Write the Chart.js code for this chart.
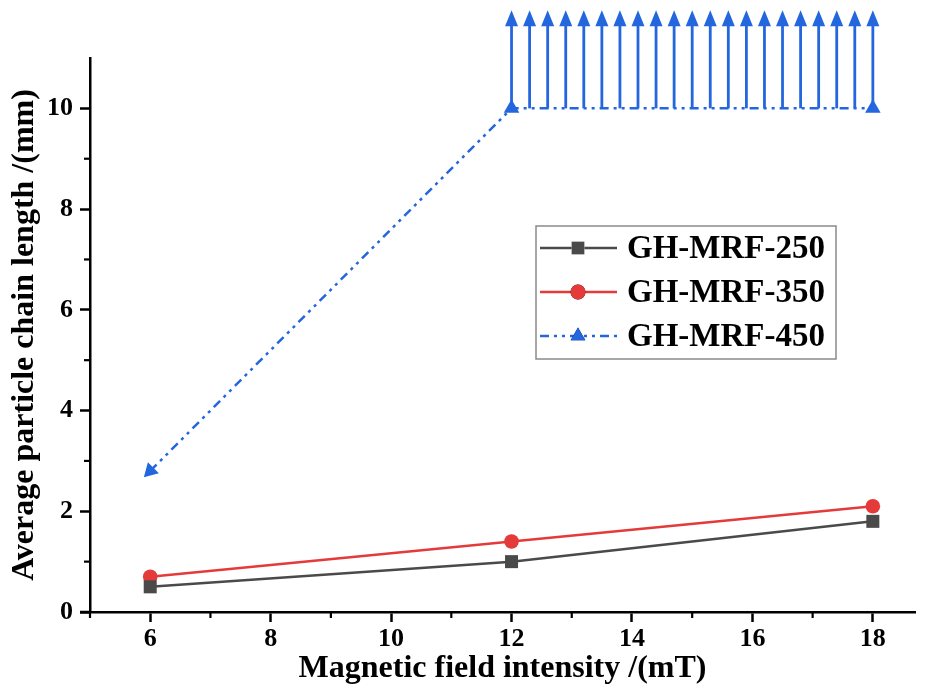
<!DOCTYPE html>
<html>
<head>
<meta charset="utf-8">
<script src="https://cdn.jsdelivr.net/npm/chart.js@4.4.0/dist/chart.umd.min.js"></script>
<style>
  html, body { margin: 0; padding: 0; background: #ffffff; }
  #wrap { width: 928px; height: 695px; position: relative; }
</style>
</head>
<body>
<div id="wrap"><canvas id="c" width="928" height="695"></canvas></div>
<script>
// ---- data ----
const fieldIntensity = [6, 12, 18];
const mrf250 = [0.5, 1.0, 1.8];
const mrf350 = [0.7, 1.4, 2.1];
const mrf450 = [2.8, 10, 10];
const seriesNames = ['GH-MRF-250', 'GH-MRF-350', 'GH-MRF-450'];
// out-of-range arrows for GH-MRF-450 (x positions, start value, tip value)
const arrowX = [12, 12.3, 12.6, 12.9, 13.2, 13.5, 13.8, 14.1, 14.4, 14.7, 15, 15.3, 15.6, 15.9, 16.2, 16.5, 16.8, 17.1, 17.4, 17.7, 18];
const arrowFrom = 10;
const arrowTo = 11.95;
const xMajorTicks = [6, 8, 10, 12, 14, 16, 18];
const xMinorTicks = [5, 7, 9, 11, 13, 15, 17];
const yMajorTicks = [0, 2, 4, 6, 8, 10];
const yMinorTicks = [1, 3, 5, 7, 9];

const FONT = "'Liberation Serif', 'Times New Roman', serif";
const C_GRAY = '#4a4a4a', C_RED = '#e53a3a', C_BLUE = '#2466de';
const DASH450 = [9, 5, 3, 5, 3, 5];

const pts = (ys) => fieldIntensity.map((x, i) => ({x, y: ys[i]}));

const arrowsPlugin = {
  id: 'arrows',
  afterDatasetsDraw(chart) {
    const {ctx, scales: {x, y}} = chart;
    ctx.save();
    ctx.strokeStyle = C_BLUE;
    ctx.fillStyle = C_BLUE;
    ctx.lineWidth = 2.8;
    const y0 = y.getPixelForValue(arrowFrom);
    const y1 = y.getPixelForValue(arrowTo);
    const headLen = 16, headHalf = 6.5;
    arrowX.forEach(v => {
      const px = x.getPixelForValue(v);
      ctx.beginPath();
      ctx.moveTo(px, y0);
      ctx.lineTo(px, y1 + headLen - 1);
      ctx.stroke();
      ctx.beginPath();
      ctx.moveTo(px, y1);
      ctx.lineTo(px - headHalf, y1 + headLen);
      ctx.lineTo(px + headHalf, y1 + headLen);
      ctx.closePath();
      ctx.fill();
    });
    ctx.restore();
  }
};

const minorTicksPlugin = {
  id: 'minorTicks',
  afterDraw(chart) {
    const {ctx, scales: {x, y}, chartArea: a} = chart;
    ctx.save();
    ctx.strokeStyle = '#000';
    ctx.lineWidth = 2.2;
    xMinorTicks.forEach(v => {
      const px = x.getPixelForValue(v);
      ctx.beginPath(); ctx.moveTo(px, a.bottom); ctx.lineTo(px, a.bottom + 6); ctx.stroke();
    });
    yMinorTicks.forEach(v => {
      const py = y.getPixelForValue(v);
      ctx.beginPath(); ctx.moveTo(a.left, py); ctx.lineTo(a.left - 6, py); ctx.stroke();
    });
    // small extension of the x axis line to the left of the y axis
    ctx.lineWidth = 2.5;
    ctx.beginPath(); ctx.moveTo(a.left - 10, a.bottom); ctx.lineTo(a.left, a.bottom); ctx.stroke();
    ctx.restore();
  }
};

const legendPlugin = {
  id: 'boxLegend',
  afterDraw(chart) {
    const {ctx} = chart;
    const bx = 536, by = 226, bw = 300, bh = 133;
    ctx.save();
    ctx.fillStyle = '#fff';
    ctx.fillRect(bx, by, bw, bh);
    ctx.strokeStyle = '#8a8a8a';
    ctx.lineWidth = 1.5;
    ctx.strokeRect(bx, by, bw, bh);
    const rows = [248, 292, 336];
    chart.data.datasets.forEach((ds, i) => {
      const yy = rows[i];
      ctx.save();
      ctx.strokeStyle = ds.borderColor;
      ctx.lineWidth = 2.5;
      ctx.setLineDash(ds.borderDash || []);
      ctx.beginPath(); ctx.moveTo(540, yy); ctx.lineTo(617, yy); ctx.stroke();
      ctx.restore();
      Chart.helpers.drawPoint(ctx, {
        pointStyle: ds.pointStyle, radius: ds.legendRadius, rotation: 0, borderWidth: 0
      }, 578, yy);
      ctx.fillStyle = ds.backgroundColor;
      ctx.fill();
      ctx.fillStyle = '#000';
      ctx.font = "bold 33px " + FONT;
      ctx.textBaseline = 'middle';
      ctx.textAlign = 'left';
      ctx.fillText(ds.label, 627, yy + 1);
    });
    ctx.restore();
  }
};

new Chart(document.getElementById('c'), {
  type: 'line',
  data: {
    datasets: [
      { label: seriesNames[0], data: pts(mrf250), borderColor: C_GRAY, backgroundColor: C_GRAY,
        borderWidth: 2.5, pointStyle: 'rect', pointRadius: 9.2, legendRadius: 9, pointBorderWidth: 0 },
      { label: seriesNames[1], data: pts(mrf350), borderColor: C_RED, backgroundColor: C_RED,
        borderWidth: 2.5, pointStyle: 'circle', pointRadius: 7.3, legendRadius: 7.5, pointBorderWidth: 0 },
      { label: seriesNames[2], data: pts(mrf450), borderColor: C_BLUE, backgroundColor: C_BLUE,
        borderWidth: 2.5, borderDash: DASH450, pointStyle: 'triangle', pointRadius: 9, legendRadius: 8.5,
        pointRotation: [225, 0, 0], pointBorderWidth: 0 }
    ]
  },
  options: {
    responsive: false,
    animation: false,
    devicePixelRatio: 1,
    clip: false,
    layout: { padding: { top: 58, right: 13, left: 0, bottom: 0 } },
    plugins: { legend: { display: false }, tooltip: { enabled: false } },
    scales: {
      x: {
        type: 'linear', min: 5, max: 18.7,
        afterFit(s) { s.height = 83; },
        afterBuildTicks(s) { s.ticks = xMajorTicks.map(v => ({value: v})); },
        grid: { drawOnChartArea: false, drawTicks: true, tickLength: 10, tickWidth: 2.5, tickColor: '#000' },
        border: { display: true, color: '#000', width: 2.5 },
        ticks: { color: '#000', padding: 2, font: { family: FONT, size: 26, weight: 'bold' }, maxRotation: 0 },
        title: { display: true, text: 'Magnetic field intensity /(mT)', color: '#000',
          font: { family: FONT, size: 32, weight: 'bold' }, padding: { top: 0, bottom: 7 } }
      },
      y: {
        type: 'linear', min: 0, max: 11,
        afterFit(s) { s.width = 90; },
        afterBuildTicks(s) { s.ticks = yMajorTicks.map(v => ({value: v})); },
        grid: { drawOnChartArea: false, drawTicks: true, tickLength: 10, tickWidth: 2.5, tickColor: '#000' },
        border: { display: true, color: '#000', width: 2.5 },
        ticks: { color: '#000', padding: 7, font: { family: FONT, size: 26, weight: 'bold' } },
        title: { display: true, text: 'Average particle chain length /(mm)', color: '#000',
          font: { family: FONT, size: 32, weight: 'bold' }, padding: { top: 6, bottom: 0 } }
      }
    }
  },
  plugins: [arrowsPlugin, minorTicksPlugin, legendPlugin]
});
</script>
</body>
</html>
